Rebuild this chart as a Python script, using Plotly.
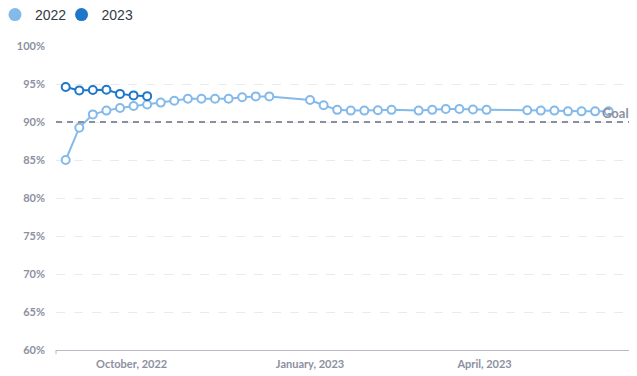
import plotly.graph_objects as go

# ---- data ----
dates_2022 = [
    "2022-08-28", "2022-09-04", "2022-09-11", "2022-09-18", "2022-09-25",
    "2022-10-02", "2022-10-09", "2022-10-16", "2022-10-23", "2022-10-30",
    "2022-11-06", "2022-11-13", "2022-11-20", "2022-11-27", "2022-12-04",
    "2022-12-11",
    "2023-01-01", "2023-01-08", "2023-01-15", "2023-01-22", "2023-01-29",
    "2023-02-05", "2023-02-12",
    "2023-02-26", "2023-03-05", "2023-03-12", "2023-03-19", "2023-03-26",
    "2023-04-02",
    "2023-04-23", "2023-04-30", "2023-05-07", "2023-05-14", "2023-05-21",
    "2023-05-28", "2023-06-04",
]
values_2022 = [
    85.0, 89.25, 91.0, 91.5, 91.85, 92.1, 92.3, 92.55, 92.8, 93.07,
    93.07, 93.07, 93.07, 93.25, 93.37, 93.37,
    92.9, 92.2, 91.6, 91.5, 91.5, 91.55, 91.6,
    91.5, 91.6, 91.7, 91.7, 91.65, 91.6,
    91.55, 91.5, 91.5, 91.4, 91.4, 91.4, 91.4,
]
dates_2023 = ["2022-08-28", "2022-09-04", "2022-09-11", "2022-09-18",
              "2022-09-25", "2022-10-02", "2022-10-09"]
values_2023 = [94.6, 94.16, 94.2, 94.25, 93.7, 93.5, 93.4]

goal_value = 90
goal_label = "Goal"
x_tick_vals = ["2022-10-01", "2023-01-01", "2023-04-01"]
x_tick_text = ["October, 2022", "January, 2023", "April, 2023"]
y_tick_vals = [60, 65, 70, 75, 80, 85, 90, 95, 100]
y_tick_text = ["60%", "65%", "70%", "75%", "80%", "85%", "90%", "95%", "100%"]

series_names = ["2022", "2023"]
colors = ["#84baea", "#1f77c9"]
legend_ids = ["legend", "legend2"]

fig = go.Figure()

for name, xs, ys, col, lg in [
        (series_names[0], dates_2022, values_2022, colors[0], legend_ids[0]),
        (series_names[1], dates_2023, values_2023, colors[1], legend_ids[1])]:
    fig.add_trace(go.Scatter(
        x=xs, y=ys, mode="lines+markers", name=name, showlegend=False,
        line=dict(color=col, width=2),
        marker=dict(symbol="circle", size=8, color="white",
                    line=dict(color=col, width=2)),
        hoverinfo="skip",
    ))
    # legend entry: filled circle
    fig.add_trace(go.Scatter(
        x=[None], y=[None], mode="markers", name=name, showlegend=True,
        legend=lg, marker=dict(symbol="circle", size=13, color=col),
    ))

# goal line
fig.add_shape(type="line", xref="paper", x0=0, x1=1, yref="y",
              y0=goal_value, y1=goal_value,
              line=dict(color="#8a8fa0", width=2, dash="6px,5px"), layer="above")
fig.add_annotation(xref="paper", x=1, yref="y", y=goal_value,
                   text="<b>" + goal_label + "</b>",
                   showarrow=False, xanchor="right", yanchor="bottom", yshift=-1,
                   font=dict(family="Lato", size=13, color="#8c90a0"))

# axis end ticks
for xp in (0, 1):
    fig.add_shape(type="line", xref="paper", yref="paper", x0=xp, x1=xp,
                  y0=0, y1=-0.014, line=dict(color="#b8bac6", width=1))

legend_font = dict(family="Liberation Sans", size=14, color="#333a45")
clear = "rgba(0,0,0,0)"

fig.update_layout(
    width=629, height=368,
    margin=dict(l=48, r=6, t=38, b=26, autoexpand=False),
    paper_bgcolor="white", plot_bgcolor="white",
    font=dict(family="Lato", color="#333333"),
    legend=dict(orientation="h", xref="paper", yref="paper",
                x=-0.1061, y=1.102, xanchor="left", yanchor="middle",
                font=legend_font, itemwidth=30, bgcolor=clear),
    legend2=dict(orientation="h", xref="paper", yref="paper",
                 x=0.0096, y=1.102, xanchor="left", yanchor="middle",
                 font=legend_font, itemwidth=30, bgcolor=clear),
    xaxis=dict(
        type="date", range=["2022-08-23", "2023-06-15 12:00"],
        tickvals=x_tick_vals, ticktext=x_tick_text,
        showgrid=False, showline=True, linecolor="#b8bac6", linewidth=1,
        ticks="", zeroline=False, ticklabelstandoff=4,
        tickfont=dict(family="Lato", size=11, color="#8c90a0", weight="bold"),
    ),
    yaxis=dict(
        range=[60, 100], tickvals=y_tick_vals, ticktext=y_tick_text,
        showgrid=True, gridcolor="#e9e9ee", griddash="dash", gridwidth=1,
        zeroline=False, showline=False, ticks="",
        ticklabelstandoff=10,
        tickfont=dict(family="Lato", size=11, color="#8c90a0", weight="bold"),
    ),
    hovermode=False,
)

fig.write_html("out.html")
